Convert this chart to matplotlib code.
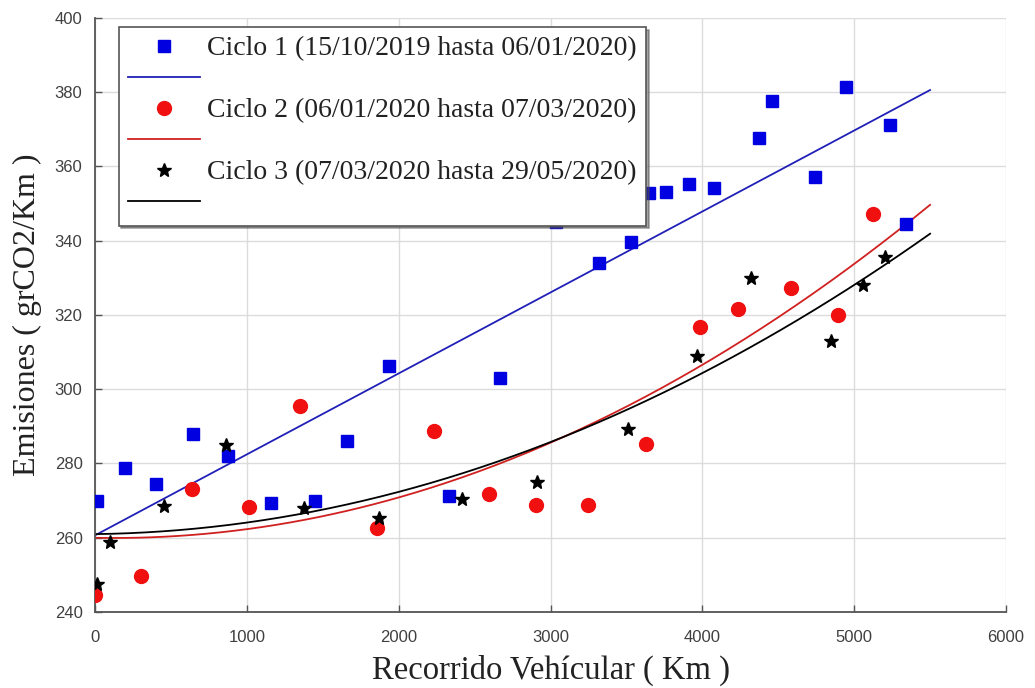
import numpy as np
import matplotlib.pyplot as plt

# Ciclo 1
x1 = [11, 200, 403, 647, 876, 1160, 1448, 1662, 1937, 2330, 2665, 3035,
      3322, 3530, 3651, 3761, 3915, 4078, 4370, 4458, 4744, 4948, 5238, 5341]
y1 = [269.8, 278.7, 274.4, 288.0, 281.9, 269.3, 269.8, 286.1, 306.3, 271.2,
      302.9, 345.1, 334.1, 339.7, 352.8, 353.2, 355.2, 354.1, 367.8, 377.5,
      357.1, 381.5, 371.3, 344.6]

# Ciclo 2
x2 = [0, 304, 637, 1017, 1347, 1854, 2231, 2598, 2907, 3250, 3628, 3985,
      4232, 4583, 4893, 5121]
y2 = [244.6, 249.7, 273.0, 268.4, 295.5, 262.7, 288.8, 271.7, 268.8, 268.8,
      285.3, 316.8, 321.5, 327.2, 320.0, 347.2]

# Ciclo 3
x3 = [11, 99, 457, 861, 1377, 1871, 2416, 2914, 3509, 3964, 4322, 4849,
      5055, 5204]
y3 = [247.5, 258.9, 268.6, 285.0, 267.9, 265.2, 270.3, 274.9, 289.4, 308.9,
      330.0, 313.1, 328.1, 335.5]

labels = ["Ciclo 1 (15/10/2019 hasta 06/01/2020)",
          "Ciclo 2 (06/01/2020 hasta 07/03/2020)",
          "Ciclo 3 (07/03/2020 hasta 29/05/2020)"]

serif = ["Liberation Serif", "DejaVu Serif"]
sans = ["Liberation Sans", "DejaVu Sans"]

fig = plt.figure(figsize=(10.35, 6.88), dpi=100)
ax = fig.add_axes([0.0918, 0.1105, 0.8802, 0.8634])

# ajustes: lineal para ciclo 1, cuadratico para ciclos 2 y 3
xf = np.linspace(0, 5500, 300)
c1 = np.polyfit(x1, y1, 1)
c2 = np.polyfit(x2, y2, 2)
c3 = np.polyfit(x3, y3, 2)

s1, = ax.plot(x1, y1, "s", color="#0000e0", ms=8, mec="#0000e0", zorder=3)
l1, = ax.plot(xf, np.polyval(c1, xf), color="#2020b8", lw=1.3, zorder=2)
s2, = ax.plot(x2, y2, "o", color="#f01010", ms=10, mec="#f01010", zorder=3)
l2, = ax.plot(xf, np.polyval(c2, xf), color="#d02020", lw=1.3, zorder=2)
s3, = ax.plot(x3, y3, "*", color="black", ms=10, zorder=3)
l3, = ax.plot(xf, np.polyval(c3, xf), color="black", lw=1.3, zorder=2)

ax.set_xlim(0, 6000)
ax.set_ylim(240, 400)
ax.set_xticks(range(0, 6001, 1000))
ax.set_yticks(range(240, 401, 20))
ax.grid(True, color="#dcdcdc", lw=1)
ax.set_axisbelow(True)
for side in ["top", "right"]:
    ax.spines[side].set_visible(False)
for side in ["left", "bottom"]:
    ax.spines[side].set_color("#555555")
    ax.spines[side].set_linewidth(1.3)
ax.tick_params(direction="in", length=5, width=1, color="#555555",
               labelcolor="#404040", labelsize=12)
ax.tick_params(axis="x", pad=13)
ax.tick_params(axis="y", pad=9)
for t in ax.get_xticklabels() + ax.get_yticklabels():
    t.set_family(sans)

ax.set_xlabel("Recorrido Vehícular ( Km )", family=serif, fontsize=23.5,
              color="#222222", labelpad=7)
ax.set_ylabel("Emisiones ( grCO2/Km )", family=serif, fontsize=23,
              color="#222222", labelpad=9)

leg = ax.legend([s1, l1, s2, l2, s3, l3],
                [labels[0], "", labels[1], "", labels[2], ""],
                loc="upper left", bbox_to_anchor=(0.026, 0.985),
                prop={"family": serif, "size": 20},
                handlelength=2.6, handletextpad=0.26, labelspacing=0.2,
                borderpad=0.33, borderaxespad=0, fancybox=False,
                framealpha=1, edgecolor="#555555", shadow=True)
leg.get_frame().set_linewidth(1.2)
for t in leg.get_texts():
    t.set_color("#222222")

fig.savefig("out.png", dpi=100)
